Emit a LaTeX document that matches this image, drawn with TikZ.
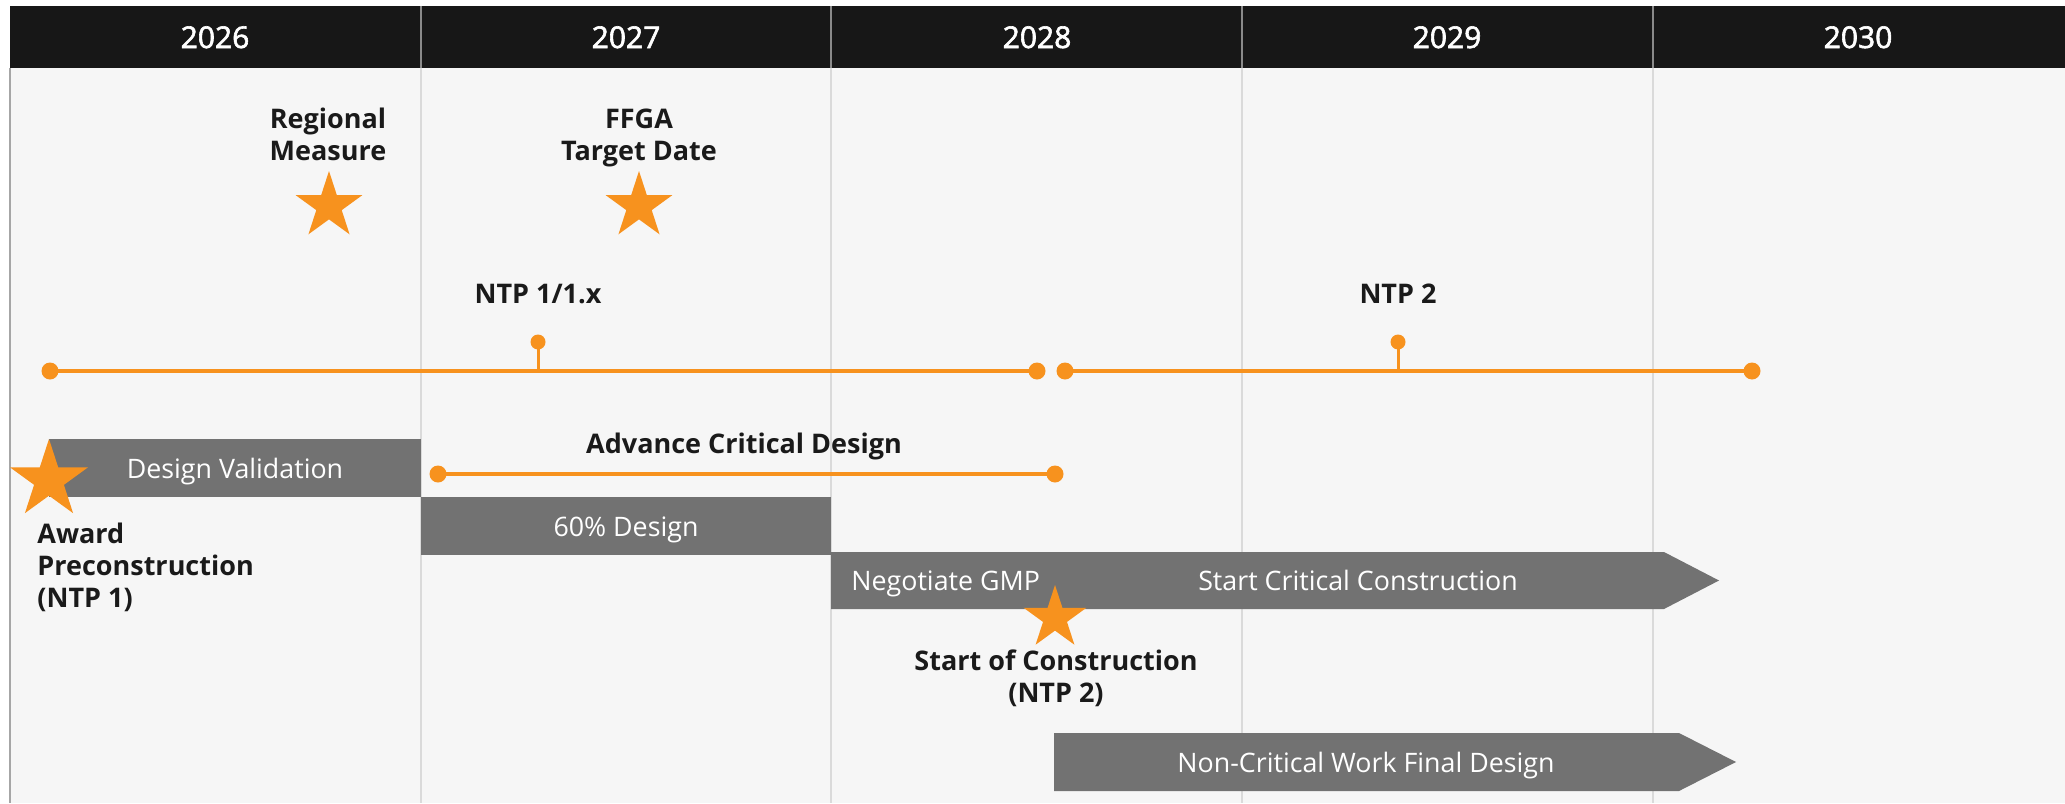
\documentclass[tikz,border=0pt]{standalone}
\usepackage{fontspec}
\setmainfont{Open Sans}
\newfontfamily\yearfont[FakeBold=2]{Open Sans}
\usetikzlibrary{shapes.geometric}
\definecolor{orng}{HTML}{F7921E}
\definecolor{bargray}{HTML}{727272}
\definecolor{bodybg}{HTML}{F6F6F6}
\definecolor{hdr}{HTML}{171717}
\definecolor{divline}{HTML}{DADADA}
\definecolor{hdrdiv}{HTML}{8A8A8A}
\definecolor{lbltext}{HTML}{1A1A1A}
\begin{document}
\begin{tikzpicture}[x=0.5pt,y=-0.5pt,
  lbl/.style={font=\fontsize{13.5pt}{16pt}\selectfont\bfseries, text=lbltext, align=center, inner sep=0pt},
  bartxt/.style={font=\fontsize{13.4pt}{16pt}\selectfont, text=white, inner sep=0pt},
  yr/.style={font=\yearfont\fontsize{15pt}{18pt}\selectfont, text=white, inner sep=0pt},
  dot/.style={circle, fill=orng, inner sep=0pt, minimum size=8.5pt},
  smalldot/.style={circle, fill=orng, inner sep=0pt, minimum size=7.5pt},
  oline/.style={draw=orng, line width=2pt},
  starnode/.style={star, star points=5, star point ratio=2.618, fill=orng, inner sep=0pt},
  barfill/.style={fill=bargray}
]
\useasboundingbox (0,0) rectangle (2065,803);
\fill[white] (0,0) rectangle (2065,803);
\fill[bodybg] (10,68) rectangle (2065,803);
\fill[hdr] (10,6) rectangle (2065,68);
\draw[gray!70, line width=0.8pt] (10,68) -- (10,803);
\foreach \xx in {421,831,1242,1653} {
  \draw[divline, line width=1pt] (\xx,68) -- (\xx,803);
  \draw[hdrdiv, line width=1pt] (\xx,6) -- (\xx,68);
}
% years
\node[yr, anchor=base] (y26) at (215,48) {2026};
\node[yr, anchor=base] (y27) at (626,48) {2027};
\node[yr, anchor=base] (y28) at (1037,48) {2028};
\node[yr, anchor=base] (y29) at (1447,48) {2029};
\node[yr, anchor=base] (y30) at (1858,48) {2030};

% top milestones
\node[lbl, anchor=base] (regl) at (328,160) {Regional\\Measure};
\node[starnode, minimum size=35pt] (regs) at (329,206) {};
\node[lbl, anchor=base] (ffgal) at (639,160) {FFGA\\Target Date};
\node[starnode, minimum size=35pt] (ffgas) at (639,206) {};

% main timeline
\node[dot] (t0) at (50,371) {};
\node[dot] (t1) at (1037,371) {};
\node[dot] (t2) at (1065,371) {};
\node[dot] (t3) at (1752,371) {};
\coordinate (n1base) at (538,371);
\coordinate (n2base) at (1398,371);
\node[smalldot] (n1d) at (538,342) {};
\node[smalldot] (n2d) at (1398,342) {};
\draw[oline] (t0.center) -- (t1.center);
\draw[oline] (t2.center) -- (t3.center);
\draw[oline, line width=1.5pt] (n1d.center) -- (n1base);
\draw[oline, line width=1.5pt] (n2d.center) -- (n2base);
\node[lbl, anchor=base] (ntp1) at (538,303) {NTP 1/1.x};
\node[lbl, anchor=base] (ntp2) at (1398,303) {NTP 2};

% advance critical design
\node[lbl, anchor=base] (acdl) at (744,453) {Advance Critical Design};
\node[dot] (a0) at (438,474) {};
\node[dot] (a1) at (1055,474) {};
\draw[oline] (a0.center) -- (a1.center);

% bars
\fill[barfill] (49,439) rectangle (421,497);
\node[bartxt, anchor=base] (dvt) at (235,478) {Design Validation};
\fill[barfill] (421,497) rectangle (831,555);
\node[bartxt, anchor=base] (sdt) at (626,536) {60\% Design};
\fill[barfill] (831,552) -- (1664,552) -- (1719,580.5) -- (1664,609) -- (831,609) -- cycle;
\node[bartxt, anchor=base west] (ngt) at (851,590) {Negotiate GMP};
\node[bartxt, anchor=base] (sct) at (1358,590) {Start Critical Construction};
\fill[barfill] (1054,733) -- (1679,733) -- (1736,762) -- (1679,791) -- (1054,791) -- cycle;
\node[bartxt, anchor=base] (nct) at (1366,772) {Non-Critical Work Final Design};

% award star
\node[starnode, minimum size=41pt] (aws) at (49,480) {};
\node[lbl, align=left, anchor=base west] (awl) at (37,607) {Award\\Preconstruction\\(NTP 1)};

% start of construction star
\node[starnode, minimum size=33pt] (scs) at (1055,618) {};
\node[lbl, anchor=base] (scl) at (1056,702) {Start of Construction\\(NTP 2)};
\end{tikzpicture}
\end{document}
